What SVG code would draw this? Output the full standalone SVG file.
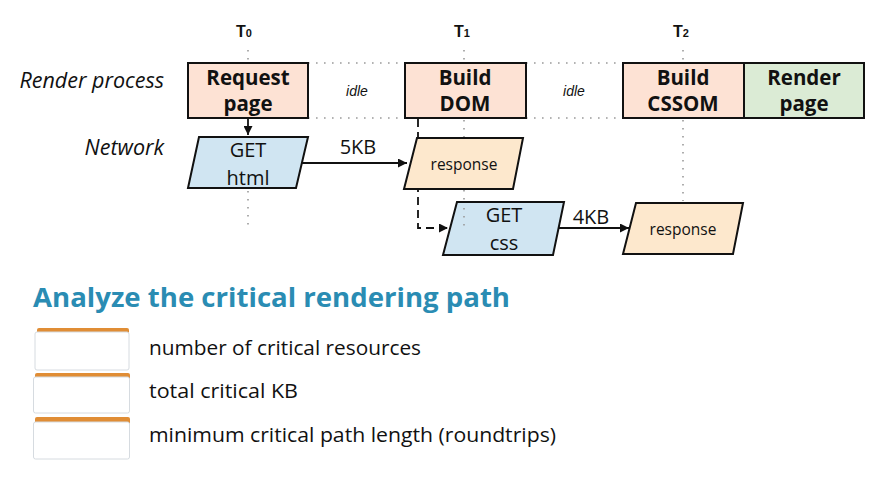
<svg xmlns="http://www.w3.org/2000/svg" width="879" height="481" viewBox="0 0 879 481">
<defs>
<style>
.box{stroke:#111;stroke-width:2}
.peach{fill:#fde2d4}
.green{fill:#dbebd5}
.blue{fill:#d0e5f2}
.resp{fill:#fde8cd}
.bt{font-family:"Open Sans","Noto Sans",sans-serif;font-weight:bold;font-size:20.5px;fill:#111;text-anchor:middle}
.nt{font-family:"Open Sans","Noto Sans",sans-serif;font-size:20px;fill:#111;text-anchor:middle}
.st{font-family:"Open Sans","Noto Sans",sans-serif;font-size:15.5px;fill:#111;text-anchor:middle}
.lab{font-family:"Open Sans","Noto Sans",sans-serif;font-style:italic;font-size:21.5px;fill:#111;text-anchor:end}
.idle{font-family:"Liberation Sans",Arial,sans-serif;font-style:italic;font-size:14px;fill:#111;text-anchor:middle}
.tl{font-family:"Liberation Sans",Arial,sans-serif;font-weight:bold;font-size:16px;fill:#111;text-anchor:middle}
.dot{stroke:#9a9a9a;stroke-width:1.6;stroke-dasharray:1.6 6.4;fill:none}
.conn{stroke:#111;stroke-width:1.8;fill:none}
.dash{stroke-dasharray:8 5}
.chk{font-family:"Open Sans","Noto Sans",sans-serif;font-size:20.5px;fill:#111}
.cbo{fill:#e08d35}
.cbw{fill:#fff;stroke:#d6dbe0;stroke-width:1}
</style>
<marker id="ah" viewBox="0 0 10 10" refX="10" refY="5" markerWidth="10" markerHeight="9" markerUnits="userSpaceOnUse" orient="auto">
<path d="M0,0 L10,5 L0,10 z" fill="#111"/>
</marker>
</defs>
<rect width="879" height="481" fill="#fff"/>

<g id="time-labels">
<text class="tl" x="244" y="37">T<tspan font-size="11">0</tspan></text>
<text class="tl" x="462" y="37">T<tspan font-size="11">1</tspan></text>
<text class="tl" x="681" y="37">T<tspan font-size="11">2</tspan></text>
</g>

<g id="row-labels">
<text class="lab" x="164" y="88">Render process</text>
<text class="lab" x="164" y="155">Network</text>
</g>

<g id="idle-gaps">
<path class="dot" d="M308,63 H405 M308,118 H405 M526,63 H623 M526,118 H623"/>
<text class="idle" x="357" y="96">idle</text>
<text class="idle" x="574" y="96">idle</text>
</g>

<g id="connectors">
<path class="conn" d="M248,119 V135" marker-end="url(#ah)"/>
<path class="conn" d="M302,163 H407" marker-end="url(#ah)"/>
<text class="nt" x="358" y="154">5KB</text>
<path class="conn dash" d="M418,119 V228 H448" marker-end="url(#ah)"/>
<path class="conn" d="M558,228 H629" marker-end="url(#ah)"/>
<text class="nt" x="591" y="224">4KB</text>
</g>

<g id="request-page">
<rect class="box peach" x="188" y="63" width="120" height="55"/>
<text class="bt" x="248" y="85">Request</text>
<text class="bt" x="248" y="111">page</text>
</g>

<g id="build-dom">
<rect class="box peach" x="405" y="63" width="121" height="55"/>
<text class="bt" x="465" y="85">Build</text>
<text class="bt" x="465" y="111">DOM</text>
</g>

<g id="build-cssom">
<rect class="box peach" x="623" y="63" width="121" height="55"/>
<text class="bt" x="683" y="85">Build</text>
<text class="bt" x="683" y="111">CSSOM</text>
</g>

<g id="render-page">
<rect class="box green" x="744" y="63" width="120" height="55"/>
<text class="bt" x="804" y="85">Render</text>
<text class="bt" x="804" y="111">page</text>
</g>

<g id="get-html">
<polygon class="box blue" points="199,137 308,137 296,188 188,188"/>
<text class="nt" x="248" y="157">GET</text>
<text class="nt" x="248" y="185">html</text>
</g>

<g id="response-html">
<polygon class="box resp" points="417,138 523,138 513,189 404,189"/>
<text class="st" x="464" y="170">response</text>
</g>

<g id="get-css">
<polygon class="box blue" points="457,202 564,202 553,255 443,255"/>
<text class="nt" x="504" y="222">GET</text>
<text class="nt" x="504" y="250">css</text>
</g>

<g id="response-css">
<polygon class="box resp" points="636,203 743,203 733,254 623,254"/>
<text class="st" x="683" y="235">response</text>
</g>

<g id="time-lines">
<path class="dot" d="M248,50 V62 M248,191 V225 M464,50 V62 M464,120 V137 M464,190 V201 M464,208 V226 M683,50 V62 M683,120 V201"/>
</g>

<g id="analysis">
<text x="33" y="307" font-family="'Open Sans','Noto Sans',sans-serif" font-weight="bold" font-size="27" fill="#2a8cb3" textLength="477" lengthAdjust="spacingAndGlyphs">Analyze the critical rendering path</text>
</g>

<g id="check-1">
<rect class="cbo" x="37" y="328" width="92" height="8" rx="2"/>
<rect class="cbw" x="35" y="332" width="94" height="38" rx="2"/>
<text class="chk" x="149" y="355" textLength="272" lengthAdjust="spacingAndGlyphs">number of critical resources</text>
</g>

<g id="check-2">
<rect class="cbo" x="35" y="373" width="95" height="8" rx="2"/>
<rect class="cbw" x="33.5" y="377" width="96" height="36" rx="2"/>
<text class="chk" x="149" y="398" textLength="149" lengthAdjust="spacingAndGlyphs">total critical KB</text>
</g>

<g id="check-3">
<rect class="cbo" x="35" y="417" width="95" height="8" rx="2"/>
<rect class="cbw" x="33.5" y="422" width="96" height="37" rx="2"/>
<text class="chk" x="149" y="442" textLength="407" lengthAdjust="spacingAndGlyphs">minimum critical path length (roundtrips)</text>
</g>
</svg>
